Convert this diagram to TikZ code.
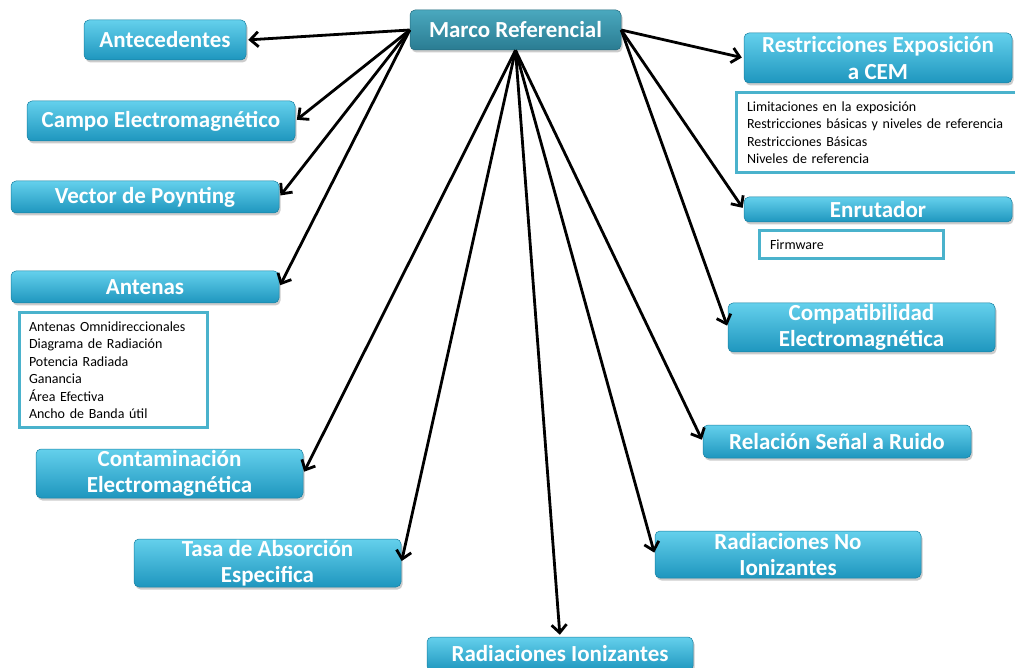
\documentclass[tikz,border=0pt]{standalone}
\usepackage{fontspec}
\setmainfont{Carlito}
\usetikzlibrary{arrows.meta,shadows}
\definecolor{bxtop}{RGB}{100,208,236}
\definecolor{bxbot}{RGB}{30,150,190}
\definecolor{mrtop}{RGB}{74,168,190}
\definecolor{mrbot}{RGB}{42,124,146}
\definecolor{lstb}{RGB}{74,178,204}
\begin{document}
\begin{tikzpicture}[x=1pt,y=-1pt,
 bx/.style={rounded corners=5pt, top color=bxtop, bottom color=bxbot, draw=bxbot!85!black, line width=0.5pt, text=white, font=\fontsize{23}{26.5}\selectfont\bfseries, align=center, inner sep=0pt, drop shadow={opacity=0.4,shadow xshift=1.5pt,shadow yshift=-2.5pt}},
 mrbox/.style={bx, top color=mrtop, bottom color=mrbot, draw=mrbot!85!black},
 lst/.style={draw=lstb, line width=3pt, fill=white, font=\fontsize{14}{17.5}\selectfont, align=left, inner ysep=0pt, inner xsep=10pt, drop shadow={opacity=0.25, shadow xshift=1pt, shadow yshift=-1.5pt}},
 ar/.style={line width=2.8pt, -{Straight Barb[length=8pt,width=15pt]}, shorten >=2pt}]
\useasboundingbox (0,0) rectangle (1015,668);
\clip (0,0) rectangle (1015,668);
\fill[white] (0,0) rectangle (1015,668);
% nodes
\node[mrbox, minimum width=211pt, minimum height=40pt] (mr) at (515.5,30) {Marco Referencial};
\node[bx, minimum width=162pt, minimum height=40pt] (ante) at (165,40) {Antecedentes};
\node[bx, minimum width=268pt, minimum height=40pt] (campo) at (161,121) {Campo Electromagnético};
\node[bx, minimum width=268pt, minimum height=32pt] (vec) at (145,197) {Vector de Poynting};
\node[bx, minimum width=268pt, minimum height=32pt] (ant) at (145,287) {Antenas};
\node[lst, minimum width=188pt, minimum height=114pt, text width=168pt] (antl) at (113,370) {Antenas Omnidireccionales\\Diagrama de Radiación\\Potencia Radiada\\Ganancia\\Área Efectiva\\Ancho de Banda útil};
\node[bx, minimum width=267pt, minimum height=49pt] (cont) at (169.5,473.5) {Contaminación\\Electromagnética};
\node[bx, minimum width=267pt, minimum height=48pt] (tasa) at (267.5,563) {Tasa de Absorción\\Especifica};
\node[bx, minimum width=266pt, minimum height=34pt] (ion) at (560,654) {Radiaciones Ionizantes};
\node[bx, minimum width=266pt, minimum height=47pt] (noion) at (788,554.5) {Radiaciones No\\Ionizantes};
\node[bx, minimum width=268pt, minimum height=33pt] (rel) at (837,441.5) {Relación Señal a Ruido};
\node[bx, minimum width=267pt, minimum height=49pt] (comp) at (861.5,327.5) {Compatibilidad\\Electromagnética};
\node[bx, minimum width=268pt, minimum height=25pt] (enru) at (878,209.5) {Enrutador};
\node[lst, minimum width=184pt, minimum height=28pt, text width=162pt, inner xsep=11pt] (firm) at (851,245) {Firmware};
\node[bx, minimum width=268pt, minimum height=50pt] (restr) at (878,58) {Restricciones Exposición\\a CEM};
\node[lst, minimum width=292pt, minimum height=80pt, text width=270pt, inner xsep=11pt] (restrl) at (882,132.5) {Limitaciones en la exposición\\Restricciones básicas y niveles de referencia\\Restricciones Básicas\\Niveles de referencia};
% connectors
\draw[ar] (mr.west) -- (ante.east);
\draw[ar] (mr.west) -- (campo.east);
\draw[ar] (mr.west) -- (vec.east);
\draw[ar] (mr.west) -- (ant.east);
\draw[ar] (mr.south) -- (cont.east);
\draw[ar] (mr.south) -- (tasa.east);
\draw[ar] (mr.south) -- (ion.north);
\draw[ar] (mr.south) -- (noion.west);
\draw[ar] (mr.south) -- (rel.west);
\draw[ar] (mr.east) -- (comp.west);
\draw[ar] (mr.east) -- (enru.west);
\draw[ar] (mr.east) -- (restr.west);
\end{tikzpicture}
\end{document}
